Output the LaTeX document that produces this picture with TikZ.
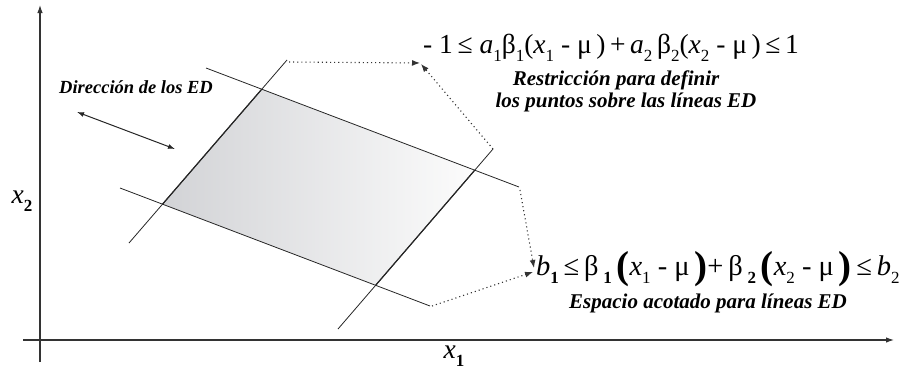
\documentclass[tikz,border=0pt]{standalone}
\usepackage{fontspec}
\setmainfont{Liberation Serif}
\usetikzlibrary{arrows.meta,calc,intersections}
\newcommand\sbx[1]{\raisebox{-0.3em}{\fontsize{17}{17}\selectfont #1}}
\newcommand\bigpar[1]{\raisebox{-0.14em}{\fontsize{39}{39}\selectfont\textbf{#1}}}
\tikzset{
  thin line/.style={line width=0.8pt, black!85},
  edge line/.style={line width=1.2pt, black!85},
  axis/.style={line width=1.1pt, black!80, -{Latex[length=8pt,width=5.5pt]}},
  dotarrow/.style={line width=1.1pt, black!80, dash pattern=on 1.1pt off 3pt, -{Latex[length=8pt,width=6pt]}},
  lbl/.style={font=\fontsize{21}{23}\selectfont\bfseries\itshape, inner sep=0pt},
  frm/.style={font=\fontsize{27.5}{30}\selectfont, inner sep=0pt},
}
\begin{document}
\begin{tikzpicture}[x=1pt,y=-1pt]
\useasboundingbox (0,0) rectangle (901,372);
% axes
\coordinate (yb) at (40,362);
\coordinate (yt) at (40,5);
\coordinate (xl) at (23,340);
\coordinate (xr) at (894,340);
\draw[axis] (yb) -- (yt);
\draw[axis] (xl) -- (xr);
% lines
\coordinate (L1a) at (129,243);
\coordinate (L1b) at (287,60);
\coordinate (Ra) at (338,329);
\coordinate (Rb) at (493,149);
\coordinate (Ta) at (206,68);
\coordinate (Tb) at (519,187);
\coordinate (Ba) at (120,188);
\coordinate (Bb) at (430,306);
\path[name path=l1] (L1a) -- (L1b);
\path[name path=r] (Ra) -- (Rb);
\path[name path=t] (Ta) -- (Tb);
\path[name path=b] (Ba) -- (Bb);
\path[name intersections={of=l1 and t, by=TL}];
\path[name intersections={of=l1 and b, by=BL}];
\path[name intersections={of=r and t, by=TR}];
\path[name intersections={of=r and b, by=BR}];
\shade[left color={rgb,255:red,210;green,211;blue,214}, right color={rgb,255:red,252;green,252;blue,252}]
  (BL) -- (TL) -- (TR) -- (BR) -- cycle;
\draw[thin line] (L1a) -- (L1b);
\draw[thin line] (Ra) -- (Rb);
\draw[thin line] (Ta) -- (Tb);
\draw[thin line] (Ba) -- (Bb);
\draw[edge line] (BL) -- (TL);
\draw[edge line] (BR) -- (TR);
% direction arrow
\coordinate (da) at (77,112);
\coordinate (db) at (175,149);
\draw[line width=1pt, black!85, {Latex[length=7pt,width=5pt]}-{Latex[length=7pt,width=5pt]}] (da) -- (db);
\node[lbl, font=\fontsize{18.5}{20}\selectfont\bfseries\itshape, anchor=base] (dir) at (136,93) {Dirección de los ED};
% formulas
\node[frm, anchor=base west] (f1) at (423,53) {- 1\,≤ \textit{a}\sbx{1}β\sbx{1}(\textit{x}\sbx{1} - μ\,)\,+\,\textit{a}\sbx{2}\,β\sbx{2}(\textit{x}\sbx{2} - μ\,)\,≤\,1};
\node[lbl, anchor=base] (r1) at (616,85) {Restricción para definir};
\node[lbl, anchor=base] (r2) at (626,107) {los puntos sobre las líneas ED};
\node[frm, font=\fontsize{28.5}{30}\selectfont, anchor=base west] (f2) at (536,275) {\textit{b}\sbx{\textbf{1}}\,≤\,β\,\sbx{\textbf{1}}\,\bigpar{(}\textit{x}\sbx{1} - μ\,\bigpar{)}+\,β\,\sbx{\textbf{2}}\,\bigpar{(}\textit{x}\sbx{2} - μ\,\bigpar{)}\,≤\,\textit{b}\sbx{2}};
\node[lbl, anchor=base] (e1) at (708,308) {Espacio acotado para líneas ED};
% axis labels
\node[frm, anchor=base] (x2) at (22,203) {\textit{x}\sbx{\textbf{2}}};
\node[frm, anchor=base] (x1) at (454,358) {\textit{x}\sbx{\textbf{1}}};
% dotted arrows
\coordinate (p1) at (289,62);
\coordinate (t1) at (420,63);
\coordinate (t1b) at (421,64);
\coordinate (p3) at (520,190);
\coordinate (t3) at (534,268);
\coordinate (p4) at (432,306);
\coordinate (t4) at (533,272);
\draw[dotarrow] (p1) -- (t1);
\draw[dotarrow] (Rb) -- (t1b);
\draw[dotarrow] (p3) -- (t3);
\draw[dotarrow] (p4) -- (t4);
\end{tikzpicture}
\end{document}
